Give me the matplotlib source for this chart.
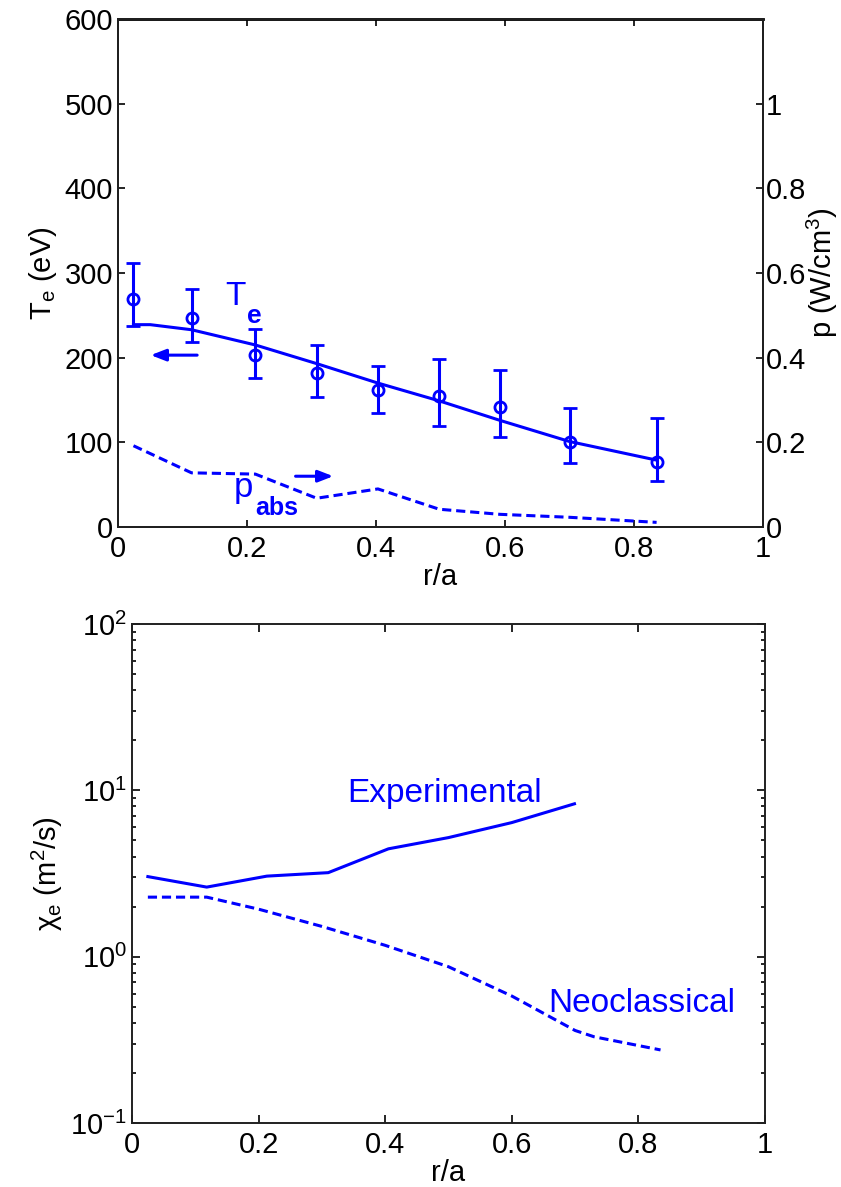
import matplotlib
matplotlib.use('Agg')
import matplotlib.pyplot as plt

plt.rcParams['font.family'] = ['Liberation Sans', 'DejaVu Sans']
plt.rcParams['mathtext.fontset'] = 'custom'
plt.rcParams['mathtext.rm'] = 'Liberation Sans'
plt.rcParams['mathtext.it'] = 'Liberation Sans:italic'
plt.rcParams['mathtext.bf'] = 'Liberation Sans:bold'
plt.rcParams['axes.unicode_minus'] = False

BLUE = '#0000ff'

# Te measurements (circles with error bars)
r_meas = [0.024, 0.114, 0.213, 0.308, 0.403, 0.498, 0.592, 0.700, 0.835]
te_meas = [269, 247, 203, 182, 162, 155, 142, 100, 77]
te_hi = [312, 281, 234, 215, 190, 198, 185, 141, 129]
te_lo = [238, 218, 176, 153, 135, 119, 106, 76, 54]

# Te fit (solid line)
r_fit = [0.024, 0.05, 0.114, 0.213, 0.308, 0.403, 0.498, 0.592, 0.700, 0.835]
te_fit = [239, 239, 233, 215, 193, 170, 149, 126, 101, 79]

# absorbed power density (dashed, right axis)
r_pabs = [0.024, 0.114, 0.213, 0.308, 0.403, 0.498, 0.592, 0.700, 0.835]
p_abs = [0.192, 0.128, 0.125, 0.068, 0.090, 0.042, 0.030, 0.023, 0.011]

# chi_e
r_exp = [0.025, 0.118, 0.213, 0.31, 0.405, 0.5, 0.6, 0.699]
chi_exp = [3.03, 2.62, 3.05, 3.2, 4.45, 5.2, 6.4, 8.3]
r_neo = [0.025, 0.118, 0.2, 0.3, 0.4, 0.5, 0.6, 0.7, 0.73, 0.835]
chi_neo = [2.28, 2.28, 1.93, 1.52, 1.17, 0.87, 0.58, 0.36, 0.33, 0.275]

xticks = [0, 0.2, 0.4, 0.6, 0.8, 1]
xticklabels = ['0', '0.2', '0.4', '0.6', '0.8', '1']

fig = plt.figure(figsize=(8.41, 11.87), dpi=100)

# ---- top panel ----
ax1 = fig.add_axes([0.1403, 0.556, 0.767, 0.428])
ax1.errorbar(r_meas, te_meas,
             yerr=[[m - l for m, l in zip(te_meas, te_lo)],
                   [h - m for m, h in zip(te_meas, te_hi)]],
             fmt='o', color=BLUE, mfc='none', mew=2, ms=8,
             elinewidth=2.2, capsize=5, capthick=2.2)
ax1.plot(r_fit, te_fit, color=BLUE, lw=2.2)
ax1.set_xlim(0, 1)
ax1.set_ylim(0, 600)
ax1.set_xticks(xticks)
ax1.set_xticklabels(xticklabels)
ax1.set_yticks([0, 100, 200, 300, 400, 500, 600])
ax1.tick_params(axis='x', direction='in', top=True, labelsize=21, length=5, width=1.2, pad=6)
ax1.tick_params(axis='y', direction='in', labelsize=21, length=5, width=1.2)
ax1.set_xlabel('r/a', fontsize=21, labelpad=0)
ax1.set_ylabel(r'T$_{\rm e}$ (eV)', fontsize=21, labelpad=4)

ax2 = ax1.twinx()
ax2.plot(r_pabs, p_abs, color=BLUE, lw=2.2, ls=(0, (3, 1.6)))
ax2.set_ylim(0, 1.2)
ax2.set_yticks([0, 0.2, 0.4, 0.6, 0.8, 1])
ax2.set_yticklabels(['0', '0.2', '0.4', '0.6', '0.8', '1'])
ax2.tick_params(axis='y', direction='in', labelsize=21, length=5, width=1.2, pad=2)
ax2.set_ylabel(r'p (W/cm$^3$)', fontsize=21, labelpad=-1)

for ax in (ax1, ax2):
    for s in ax.spines.values():
        s.set_linewidth(1.4)
        s.set_color('#202020')
ax1.spines['top'].set_color('black')
ax1.spines['top'].set_linewidth(2)

ax1.text(0.182, 262, 'T', color=BLUE, fontsize=24, ha='center', va='baseline')
ax1.text(0.2116, 241, 'e', color=BLUE, fontsize=19, fontweight='bold', ha='center', va='baseline')
ax1.text(0.195, 35, 'p', color=BLUE, fontsize=25, ha='center', va='baseline')
ax1.text(0.246, 14, 'abs', color=BLUE, fontsize=18, fontweight='bold', ha='center', va='baseline')
ax1.annotate('', xy=(0.0465, 203), xytext=(0.127, 203),
             arrowprops=dict(arrowstyle='-|>,head_length=0.9,head_width=0.35', color=BLUE, lw=2.2))
ax1.annotate('', xy=(0.338, 60), xytext=(0.271, 60),
             arrowprops=dict(arrowstyle='-|>,head_length=0.9,head_width=0.35', color=BLUE, lw=2.2))

# ---- bottom panel ----
ax3 = fig.add_axes([0.157, 0.0539, 0.7526, 0.4204])
ax3.plot(r_exp, chi_exp, color=BLUE, lw=2.2)
ax3.plot(r_neo, chi_neo, color=BLUE, lw=2.2, ls=(0, (3, 1.6)))
ax3.set_yscale('log')
ax3.set_xlim(0, 1)
ax3.set_ylim(0.1, 100)
ax3.set_xticks(xticks)
ax3.set_xticklabels(xticklabels)
ax3.tick_params(which='both', direction='in', top=True, right=True, labelsize=21, width=1.2)
ax3.tick_params(which='major', length=6)
ax3.tick_params(which='minor', length=3)
ax3.tick_params(axis='x', pad=6)
ax3.set_xlabel('r/a', fontsize=21, labelpad=0)
ax3.set_ylabel(r'χ$_{\rm e}$ (m$^{2}$/s)', fontsize=21, labelpad=4)
for s in ax3.spines.values():
    s.set_linewidth(1.4)
    s.set_color('#202020')

ax3.text(0.34, 8.47, 'Experimental', color=BLUE, fontsize=24, ha='left', va='baseline')
ax3.text(0.657, 0.466, 'Neoclassical', color=BLUE, fontsize=24, ha='left', va='baseline')

fig.savefig('out.png', dpi=100)
